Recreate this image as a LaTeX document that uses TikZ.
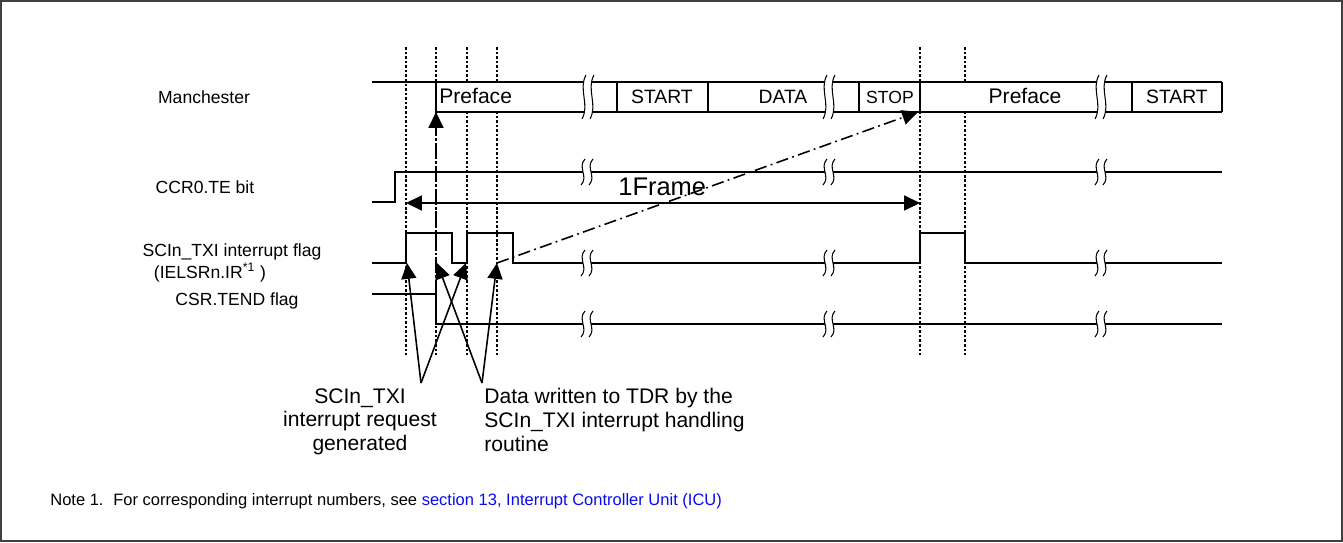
\documentclass[tikz,border=0pt]{standalone}
\usepackage{fontspec}
\setmainfont{Liberation Sans}
\usetikzlibrary{arrows.meta}
\definecolor{linkblue}{RGB}{10,10,240}

\tikzset{
  sig/.style={line width=1.1pt},
  frame/.style={line width=0.9pt},
  guide/.style={line width=0.7pt, dash pattern=on 1.5pt off 1.1pt},
  pointer/.style={line width=0.9pt, -{Triangle[length=9pt, width=8.5pt]}},
  chain/.style={pointer, dash pattern=on 7pt off 2.5pt on 1pt off 2.5pt},
  span/.style={line width=0.9pt, {Triangle[length=9pt, width=8.5pt]}-{Triangle[length=9pt, width=8.5pt]}},
  lbl/.style={font=\fontsize{10}{12}\selectfont, inner sep=0pt},
  cell/.style={font=\fontsize{11}{13}\selectfont, inner sep=0pt},
  pics/wavebreak/.style={code={
    \fill[white] (-2,-#1) .. controls (-10,-#1/3) and (2,#1/3) .. (-6,#1) -- (2,#1) .. controls (10,#1/3) and (-2,-#1/3) .. (6,-#1) -- cycle;
    \draw[line width=0.6pt] (-2,-#1) .. controls (-10,-#1/3) and (2,#1/3) .. (-6,#1);
    \draw[line width=0.6pt] (6,-#1) .. controls (-2,-#1/3) and (10,#1/3) .. (2,#1);
  }}
}

\begin{document}
\begin{tikzpicture}[x=0.02cm, y=-0.02cm]
	\useasboundingbox (0,0) rectangle (1343,542);
	\draw[line width=0.6pt, black!75] (1,1) rectangle (1342,541);
	% Signal names:
	\node[lbl, anchor=base] (manch) at (204,103) {Manchester};
	\node[lbl, anchor=base] (ccr) at (205,193) {CCR0.TE bit};
	\node[lbl, anchor=base] (txi) at (232,256) {SCIn\_TXI interrupt flag};
	\node[lbl, anchor=base] (ielsr) at (210,278) {(IELSRn.IR\textsuperscript{*1} )};
	\node[lbl, anchor=base] (tend) at (237,305) {CSR.TEND flag};
	% Timing guides:
	\draw[guide] (406,47) -- (406,355);
	\draw[guide] (436,47) -- (436,355);
	\draw[guide] (467,47) -- (467,355);
	\draw[guide] (497,47) -- (497,355);
	\draw[guide] (920,47) -- (920,355);
	\draw[guide] (965,47) -- (965,355);
	% Manchester frame:
	\fill[white] (436,82) rectangle (1222,112);
	\draw[frame] (372,82) -- (1222,82);
	\draw[frame] (436,112) -- (1222,112);
	\draw[frame] (436,82) -- (436,112);
	\draw[frame] (617,82) -- (617,112);
	\draw[frame] (708,82) -- (708,112);
	\draw[frame] (859,82) -- (859,112);
	\draw[frame] (920,82) -- (920,112);
	\draw[frame] (1132,82) -- (1132,112);
	\draw[frame] (1222,82) -- (1222,112);
	\node[font=\fontsize{12}{14}\selectfont, inner sep=0pt, anchor=base west] (pre1) at (439,103) {Preface};
	\node[cell, anchor=base] (start1) at (662,103) {START};
	\node[cell, anchor=base] (data) at (783,103) {DATA};
	\node[lbl, anchor=base] (stop) at (890,103) {STOP};
	\node[font=\fontsize{12}{14}\selectfont, inner sep=0pt, anchor=base] (pre2) at (1025,103) {Preface};
	\node[cell, anchor=base] (start2) at (1177,103) {START};
	% Waveforms:
	\draw[sig] (372,202) -- (395,202) -- (395,172) -- (1222,172);
	\draw[sig] (372,263) -- (406,263) -- (406,233) -- (452,233) -- (452,263) -- (467,263) -- (467,233) -- (513,233) -- (513,263) -- (920,263) -- (920,233) -- (965,233) -- (965,263) -- (1222,263);
	\draw[sig] (372,294) -- (436,294) -- (436,324) -- (1222,324);
	% Breaks:
	\pic at (588,97) {wavebreak=22};
	\pic at (829,97) {wavebreak=22};
	\pic at (1101,97) {wavebreak=22};
	\pic at (587,172) {wavebreak=13};
	\pic at (829,172) {wavebreak=13};
	\pic at (1101,172) {wavebreak=13};
	\pic at (587,263) {wavebreak=13};
	\pic at (829,263) {wavebreak=13};
	\pic at (1101,263) {wavebreak=13};
	\pic at (587,324) {wavebreak=13};
	\pic at (829,324) {wavebreak=13};
	\pic at (1101,324) {wavebreak=13};
	% Frame length:
	\coordinate (fstart) at (406,203);
	\coordinate (fend) at (920,203);
	\draw[span] (fstart) -- (fend);
	\node[font=\fontsize{14.5}{16}\selectfont, inner sep=0pt, anchor=base west] (frame) at (618,195) {1Frame};
	% Chained events:
	\coordinate (tendfall) at (436,294);
	\coordinate (prestart) at (436,112);
	\coordinate (lastwrite) at (497,263);
	\coordinate (stopend) at (918,112);
	\draw[chain] (tendfall) -- (prestart);
	\draw[chain] (lastwrite) -- (stopend);
	% Notes under the waveforms:
	\node[font=\fontsize{12}{13.6}\selectfont, align=center, inner sep=0pt, anchor=north] (reqlbl) at (360,388) {SCIn\_TXI\\interrupt request\\generated};
	\node[font=\fontsize{12}{13.6}\selectfont, align=left, inner sep=0pt, anchor=north west] (datlbl) at (484,388) {Data written to TDR by the\\SCIn\_TXI interrupt handling\\routine};
	\coordinate (reqtail) at (421,383);
	\coordinate (dattail) at (482,383);
	\coordinate (req1) at (407,263);
	\coordinate (req2) at (466,263);
	\coordinate (dat1) at (437,263);
	\coordinate (dat2) at (497,263);
	\draw[pointer] (reqtail) -- (req1);
	\draw[pointer] (reqtail) -- (req2);
	\draw[pointer] (dattail) -- (dat1);
	\draw[pointer] (dattail) -- (dat2);
	% Footnote:
	\node[font=\fontsize{9.4}{11}\selectfont, inner sep=0pt, anchor=base west] (notenum) at (50,505) {Note 1.};
	\node[font=\fontsize{9.4}{11}\selectfont, inner sep=0pt, anchor=base west] (notetext) at (113,505) {For corresponding interrupt numbers, see \textcolor{linkblue}{section 13, Interrupt Controller Unit (ICU)}};
\end{tikzpicture}
\end{document}
